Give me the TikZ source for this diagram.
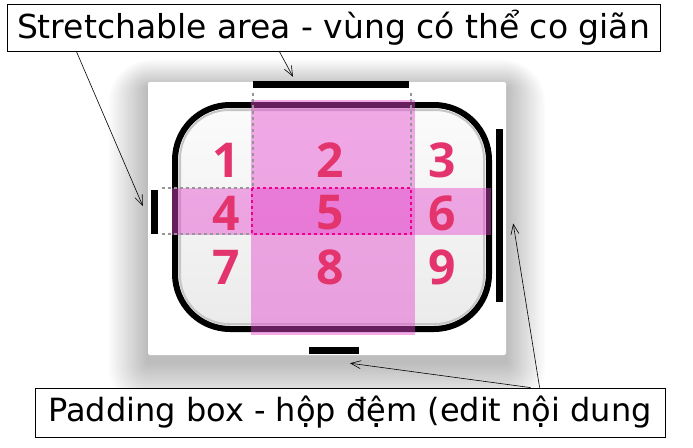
\documentclass[tikz,border=0pt]{standalone}
\usepackage{fontspec}
\setmainfont{DejaVu Sans}
\newfontfamily\digitfont{Open Sans}
\usetikzlibrary{arrows.meta}
\definecolor{stretchpink}{RGB}{228,70,205}
\definecolor{digitred}{RGB}{228,52,110}
\definecolor{padgray}{RGB}{150,150,150}

\tikzset{
  caption/.style={
    draw,
    fill=white,
    line width=0.8pt,
    inner sep=0pt,
    font=\fontsize{33}{34}\selectfont,
  },
  bar/.style={
    fill=black,
    inner sep=0pt,
  },
  digit/.style={
    text=digitred,
    inner sep=0pt,
    font=\digitfont\bfseries\fontsize{48}{48}\selectfont,
  },
  pointer/.style={
    line width=0.6pt,
    -{Straight Barb[length=10pt,width=8pt]},
  },
}

\begin{document}
\begin{tikzpicture}[x=1pt,y=-1pt]
    \useasboundingbox[fill=white] (0,0) rectangle (693,447);

    % soft shadow under the image
    \foreach \i in {1,...,22}
      \fill[black,opacity=0.011,rounded corners=2*\i] (148-1.8*\i,88-1.3*\i) rectangle (506+1.8*\i,362+2.2*\i);
    \fill[white,rounded corners=2] (148,82) rectangle (506,355);

    % the button
    \draw[line width=6pt,top color=gray!3,bottom color=gray!16,rounded corners=55] (175,105) rectangle (489,329);
    \draw[gray!45,line width=2pt,rounded corners=49] (180,110) rectangle (484,324);

    % stretchable column and row
    \fill[stretchpink,opacity=0.45] (251,100) rectangle (415,335);
    \fill[stretchpink,opacity=0.45] (172,188) rectangle (491,235);
    \draw[magenta,dashed,line width=1.5pt] (252,188) rectangle (411,234);
    \draw[padgray,dashed,line width=1.2pt] (253,93) -- (253,188);
    \draw[padgray,dashed,line width=1.2pt] (411,93) -- (411,188);
    \draw[padgray,dashed,line width=1.2pt] (162,188) -- (252,188);
    \draw[padgray,dashed,line width=1.2pt] (162,234) -- (252,234);

    % nine patches
    \node[digit] (num1) at (226,160) {1};
    \node[digit] (num2) at (330,160) {2};
    \node[digit] (num3) at (442,160) {3};
    \node[digit] (num4) at (226,213) {4};
    \node[digit] (num5) at (330,213) {5};
    \node[digit] (num6) at (442,213) {6};
    \node[digit] (num7) at (226,267) {7};
    \node[digit] (num8) at (330,267) {8};
    \node[digit] (num9) at (442,267) {9};

    % guide bars
    \node[bar,minimum width=156pt,minimum height=7pt] (topbar) at (331,84.5) {};
    \node[bar,minimum width=50pt,minimum height=7pt] (bottombar) at (334,350.5) {};
    \node[bar,minimum width=7pt,minimum height=44pt] (leftbar) at (154.5,212) {};
    \node[bar,minimum width=7pt,minimum height=173pt] (rightbar) at (499.5,215.5) {};

    % captions
    \node[caption,minimum width=653pt,minimum height=47pt] (stretch) at (333.5,28) {Stretchable area - vùng có thể co giãn};
    \node[caption,minimum width=630pt,minimum height=49pt,font=\fontsize{32}{33}\selectfont] (padding) at (350,412.5) {Padding box - hộp đệm (edit nội dung};

    \draw[pointer] ([xshift=70pt]stretch.south west) -- ([xshift=-8pt,yshift=6pt]leftbar.west);
    \draw[pointer] ([xshift=273pt]stretch.south west) -- ([xshift=-38pt,yshift=4pt]topbar.north);
    \draw[pointer] ([xshift=496pt]padding.north west) -- ([xshift=16pt,yshift=-9pt]bottombar.south);
    \draw[pointer] ([xshift=505pt]padding.north west) -- ([xshift=10pt,yshift=-8pt]rightbar.east);

\end{tikzpicture}
\end{document}
